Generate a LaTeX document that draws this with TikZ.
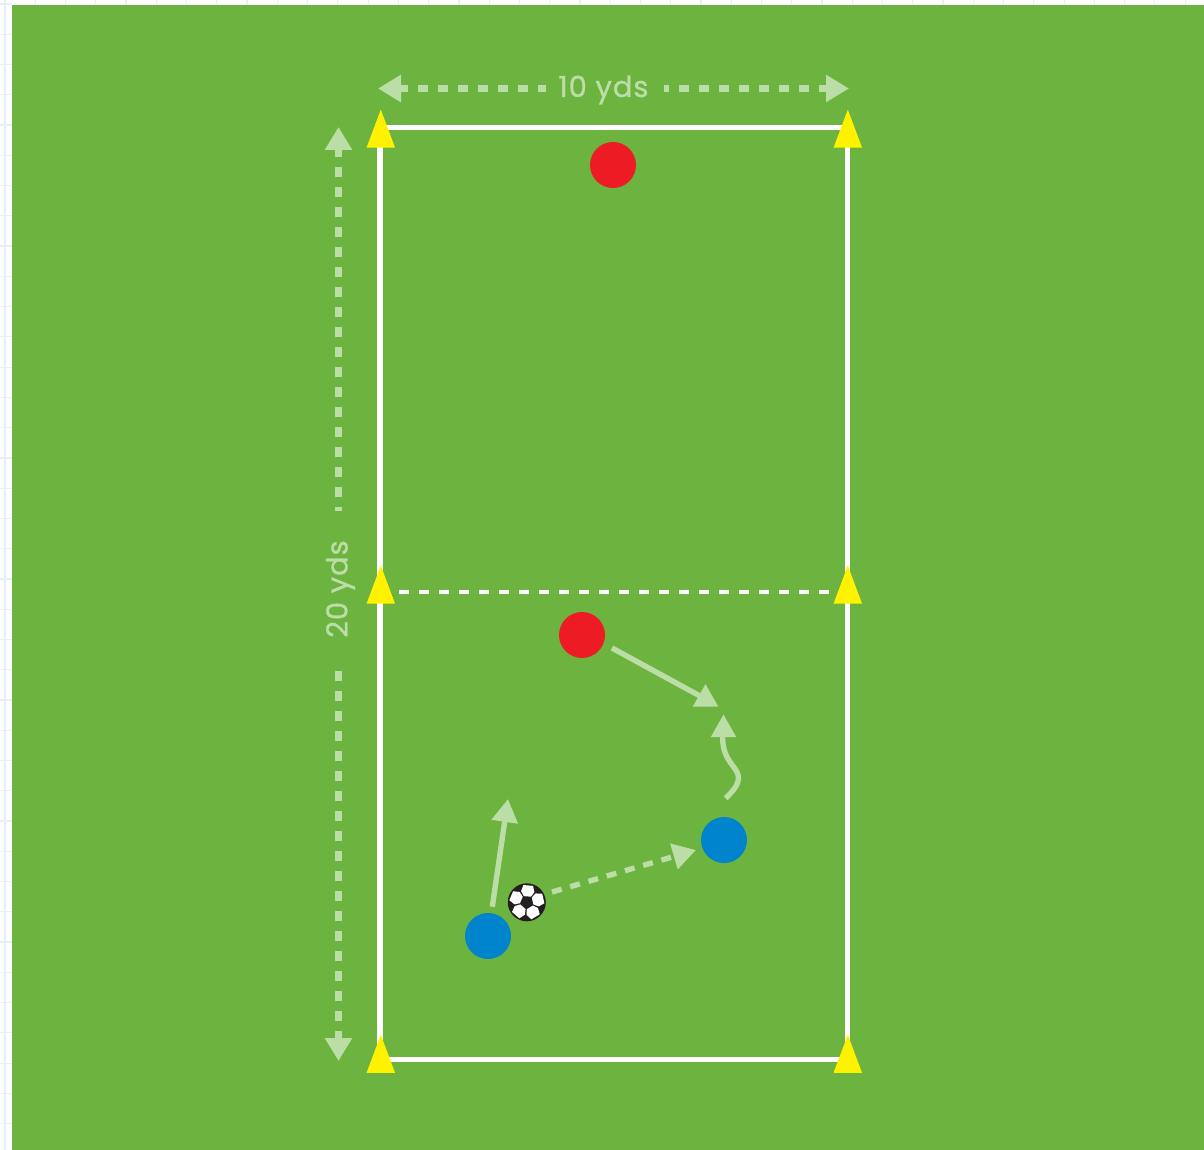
\documentclass[tikz,border=0pt]{standalone}
\usepackage{fontspec}
\setmainfont{Poppins}
\newfontfamily\labfont[LetterSpace=3.2,FakeBold=1]{Poppins}
\usetikzlibrary{arrows.meta,shapes.geometric}
\definecolor{pitch}{HTML}{6DB33F}
\definecolor{pale}{HTML}{BBDDA6}
\definecolor{cone}{HTML}{FFF200}
\definecolor{redp}{HTML}{ED1C24}
\definecolor{bluep}{HTML}{0085CC}
\definecolor{gridc}{HTML}{E3F1FA}
\definecolor{ballk}{HTML}{231F20}
\tikzset{
  x=1pt,y=-1pt,
  player/.style={circle,minimum size=46pt,inner sep=0pt,fill=#1},
  conem/.style={isosceles triangle,isosceles triangle stretches,shape border rotate=90,minimum width=28.5pt,minimum height=38pt,inner sep=0pt,fill=cone,anchor=lower side},
  headm/.style={isosceles triangle,isosceles triangle stretches,shape border rotate=90,minimum width=25.5pt,minimum height=22.5pt,inner sep=0pt,fill=pale,anchor=lower side},
  bound/.style={white,line width=5.4pt},
  midline/.style={white,line width=3.8pt,dash pattern=on 10pt off 10pt},
  dim/.style={pale,line width=7pt,dash pattern=on 10pt off 10pt,dash phase=2pt,{Triangle[length=23pt,width=26pt]}-},
  run/.style={pale,line width=5.4pt},
  runhead/.style={-{Triangle[length=23pt,width=25.5pt]}},
  pass/.style={pale,line width=5.4pt,dash pattern=on 10pt off 9pt,-{Triangle[length=23pt,width=25.5pt]}},
  lab/.style={text=pale,font=\labfont\fontsize{29}{30}\selectfont,inner sep=0pt},
  patch/.style={fill=white}
}
\begin{document}
\begin{tikzpicture}
\useasboundingbox (0,0) rectangle (1204,1150);
\fill[white] (0,0) rectangle (1204,1150);
% faint grid behind the pitch
\foreach \i in {0,...,39}{\draw[gridc,line width=1.2pt] ({5+30.26*\i},0) -- ({5+30.26*\i},5);}
\foreach \i in {0,...,37}{\draw[gridc,line width=1.2pt] (0,{4+30.26*\i}) -- (12,{4+30.26*\i});}
\draw[gridc,line width=1.6pt] (5,0) -- (5,1150);
\fill[pitch] (12,5) rectangle (1204,1150);
% corners
\coordinate (tl) at (380,127.3);
\coordinate (tr) at (847.5,127.3);
\coordinate (bl) at (380,1059.5);
\coordinate (br) at (847.5,1059.5);
\coordinate (ml) at (399,592);
\coordinate (mr) at (838,592);
\draw[bound] (tl) -- (tr);
\draw[bound] (bl) -- (br);
\draw[bound] (tl) -- (bl);
\draw[bound] (tr) -- (br);
\draw[midline] (ml) -- (mr);
% cones
\node[conem] (c1) at (380.8,147.8) {};
\node[conem] (c2) at (847.8,147.8) {};
\node[conem] (c3) at (380.8,603.8) {};
\node[conem] (c4) at (847.8,603.8) {};
\node[conem] (c5) at (380.8,1073) {};
\node[conem] (c6) at (847.8,1073) {};
% dimensions
\node[lab] (w) at (603.5,90) {10 yds};
\node[lab,rotate=90] (h) at (340.5,589) {20 yds};
\coordinate (wl) at (378,88.5);
\coordinate (wr) at (849,88.5);
\coordinate (ht) at (338.5,127);
\coordinate (hb) at (338.5,1061);
\draw[dim] (wl) -- (546,88.5);
\draw[dim] (wr) -- (664,88.5);
\draw[dim] (ht) -- (338.5,511);
\draw[dim] (hb) -- (338.5,665);
% players
\node[player=redp] (r1) at (613,165) {};
\node[player=redp] (r2) at (582,635) {};
\node[player=bluep] (b1) at (488,936) {};
\node[player=bluep] (b2) at (724,840) {};
% ball
\node[circle,fill=ballk,minimum size=38pt,inner sep=0pt] (ball) at (526.8,902.3) {};
\begin{scope}[shift={(ball.center)}]
  \foreach \a in {-85,-13,59,131,203}{
    \fill[patch] (\a-31:6.9) -- (\a-32:12.6) -- (\a-16:17.6) -- (\a+16:17.6) -- (\a+32:12.6) -- (\a+31:6.9) -- cycle;
  }
\end{scope}
% runs
\coordinate (s1) at (492.3,906.7);
\coordinate (e1) at (508,799);
\draw[run,runhead] (s1) -- (e1);
\coordinate (s2) at (612,648);
\coordinate (e2) at (700,696);
\draw[run] (s2) -- (e2);
\node[headm] (h2) at (705.5,706.8) {};
\coordinate (s3) at (725.7,798.3);
\draw[run] (s3) .. controls (733,791) and (742,782) .. (737,772) .. controls (732,763) and (722.5,757) .. (722.7,737);
\node[headm] (h3) at (723.5,737.3) {};
\coordinate (s4) at (552,892);
\coordinate (e4) at (696,850);
\draw[pass] (s4) -- (e4);
\end{tikzpicture}
\end{document}
